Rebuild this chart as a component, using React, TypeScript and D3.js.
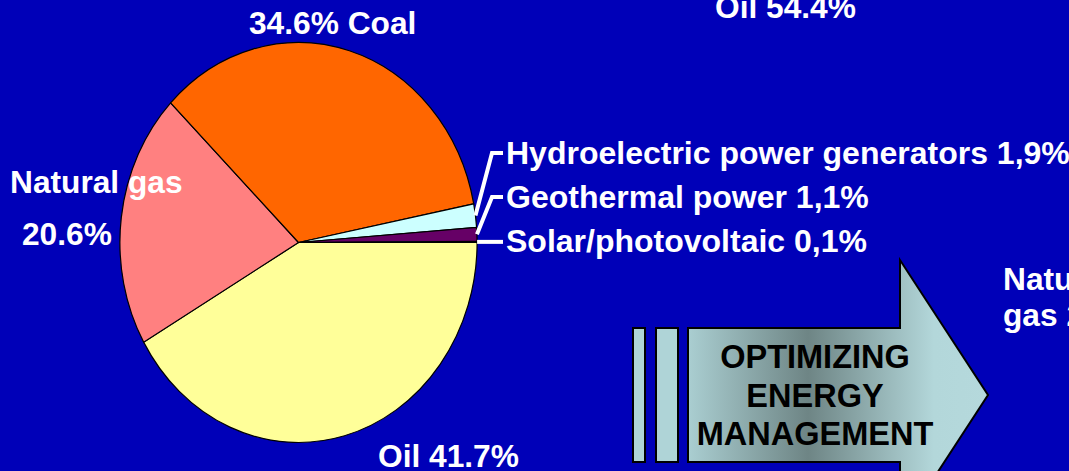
import { useRef, useEffect } from 'react';
import * as d3 from 'd3';

// energy sources, shares
const sources = ['Oil', 'Natural gas', 'Coal', 'Hydroelectric power generators', 'Geothermal power', 'Solar/photovoltaic'];
const shares = [41.7, 20.6, 34.6, 1.9, 1.1, 0.1];
const sliceColors = ['#FFFF99', '#FF8080', '#FF6600', '#CCFFFF', '#660066', '#3366CC'];

// small slices get a leader line + text on the right
const calloutLabels = ['Hydroelectric power generators 1,9%', 'Geothermal power 1,1%', 'Solar/photovoltaic 0,1%'];
const arrowLines = ['OPTIMIZING', 'ENERGY', 'MANAGEMENT'];

export default function App() {
  const svgRef = useRef<SVGSVGElement>(null);

  useEffect(() => {
    const width = 1069;
    const height = 471;
    const cx = 298.5, cy = 242.5, r = 200, sx = 0.893;
    const font = 'Arial, "Liberation Sans", sans-serif';

    const svg = d3.select(svgRef.current)
      .attr('width', width)
      .attr('height', height);
    svg.selectAll('*').remove();

    svg.append('rect').attr('width', width).attr('height', height).attr('fill', '#0000B8');

    const data = sources.map((s, i) => ({ name: s, value: shares[i], color: sliceColors[i] }));

    const pie = d3.pie<any>()
      .value(d => d.value)
      .sort(null)
      .startAngle(Math.PI / 2)
      .endAngle(Math.PI / 2 + 2 * Math.PI);

    const arc = d3.arc<any>().innerRadius(0).outerRadius(r);
    const arcs = pie(data);

    // pie is a bit squeezed horizontally in the original
    const g = svg.append('g').attr('transform', `translate(${cx},${cy}) scale(${sx},1)`);
    g.selectAll('path')
      .data(arcs)
      .enter()
      .append('path')
      .attr('d', arc)
      .attr('fill', d => d.data.color)
      .attr('stroke', '#000')
      .attr('stroke-width', 1.2)
      .attr('vector-effect', 'non-scaling-stroke');

    const txt = (x: number, y: number, s: string, anchor = 'start', size = 31.7, fill = '#fff') =>
      svg.append('text')
        .attr('x', x).attr('y', y)
        .attr('text-anchor', anchor)
        .attr('font-family', font)
        .attr('font-weight', 'bold')
        .attr('font-size', size)
        .attr('fill', fill)
        .text(s);

    // slice labels
    txt(249, 34, `${shares[2]}% Coal`);
    txt(10, 193, 'Natural gas');
    txt(22, 245, `${shares[1]}%`);
    txt(378, 467, `Oil ${shares[0]}%`);

    // callouts for the tiny slices
    const baseY = [164, 208, 252];
    arcs.slice(3).forEach((a, i) => {
      const mid = (a.startAngle + a.endAngle) / 2;
      const x0 = cx + Math.sin(mid) * r * sx;
      const y0 = cy - Math.cos(mid) * r;
      const ty = baseY[i] - 11;
      const pts: [number, number][] = i < 2
        ? [[x0, y0], [492, ty], [503, ty]]
        : [[x0, y0], [503, y0]];
      svg.append('path')
        .attr('d', d3.line()(pts))
        .attr('fill', 'none')
        .attr('stroke', '#fff')
        .attr('stroke-width', 4);
      txt(506, baseY[i], calloutLabels[i], 'start', 32);
    });

    // second pie (off-screen) labels
    txt(715, 18, 'Oil 54.4%');
    txt(1003, 290, 'Natural');
    txt(1003, 326, 'gas 20%');

    // arrow
    const defs = svg.append('defs');
    const grad = defs.append('linearGradient').attr('id', 'arrowGrad')
      .attr('gradientUnits', 'userSpaceOnUse')
      .attr('x1', 688).attr('x2', 988).attr('y1', 0).attr('y2', 0);
    grad.append('stop').attr('offset', 0).attr('stop-color', '#AACED1');
    grad.append('stop').attr('offset', 0.4).attr('stop-color', '#6E8585');
    grad.append('stop').attr('offset', 0.82).attr('stop-color', '#B3D7DA');
    grad.append('stop').attr('offset', 1).attr('stop-color', '#B5D9DC');

    const acy = 395;
    const arrowPts: [number, number][] = [
      [688, acy - 67], [900, acy - 67], [900, acy - 135], [988, acy],
      [900, acy + 135], [900, acy + 67], [688, acy + 67],
    ];
    svg.append('path')
      .attr('d', d3.line()(arrowPts) + 'Z')
      .attr('fill', 'url(#arrowGrad)')
      .attr('stroke', '#000')
      .attr('stroke-width', 2);

    [[633, 645], [656, 678]].forEach(([x1, x2]) => {
      svg.append('rect')
        .attr('x', x1).attr('y', acy - 67)
        .attr('width', x2 - x1).attr('height', 134)
        .attr('fill', '#AFD4D7')
        .attr('stroke', '#000')
        .attr('stroke-width', 2);
    });

    arrowLines.forEach((s, i) => txt(815, 368 + i * 38.5, s, 'middle', 32.5, '#000'));
  }, []);

  return (
    <svg ref={svgRef} style={{ position: 'absolute', left: 0, top: 0, display: 'block' }} />
  );
}
